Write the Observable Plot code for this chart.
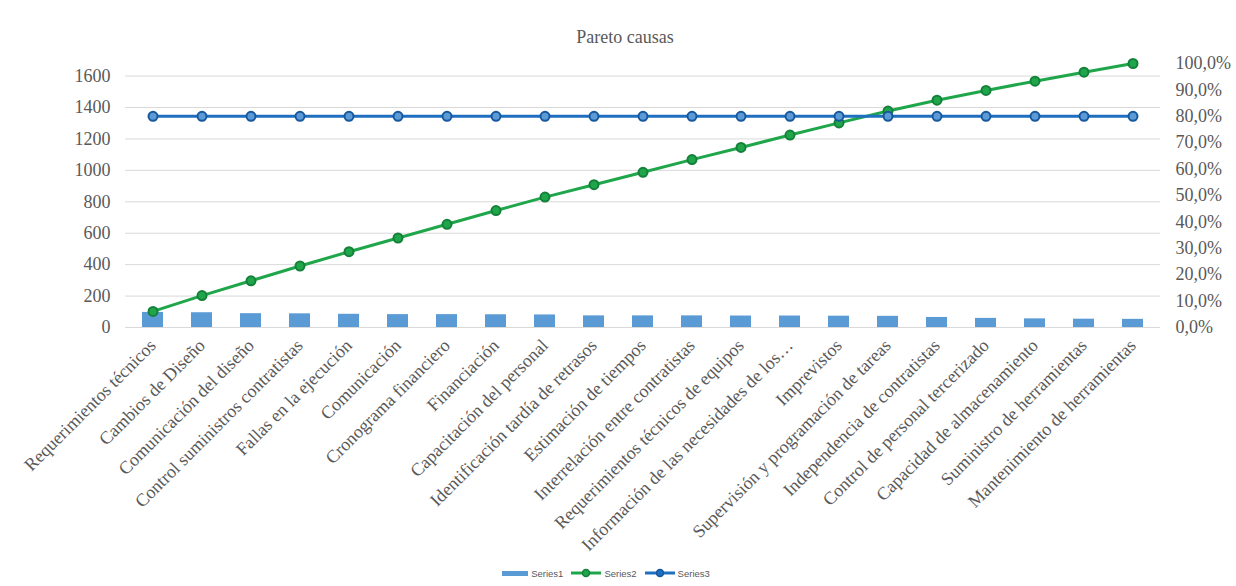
<!DOCTYPE html>
<html>
<head>
<meta charset="utf-8">
<script src="https://cdn.jsdelivr.net/npm/d3@7"></script>
<script src="https://cdn.jsdelivr.net/npm/@observablehq/plot@0.6"></script>
<style>
  html, body { margin: 0; padding: 0; background: #fff; }
  #wrap { position: relative; width: 1236px; height: 586px; overflow: hidden; }
  #title { position: absolute; top: 0; left: 0; width: 1250px; height: 50px; text-align: center;
           font-family: 'Liberation Serif', serif; font-size: 18px; line-height: 18px; color: #595959; padding-top: 28px; box-sizing: border-box; }
  #chart { position: absolute; top: 50px; left: 0; }
  #legend { position: absolute; top: 562px; left: 0; width: 1212px; height: 22px; display: flex; justify-content: center; align-items: center; gap: 8px;
            font-family: 'Liberation Sans', sans-serif; font-size: 9.5px; color: #595959; }
  .item { display: flex; align-items: center; gap: 3px; }
</style>
</head>
<body>
<div id="wrap">
  <div id="title">Pareto causas</div>
  <div id="chart"></div>
  <div id="legend"></div>
</div>
<script>
const categories = [
  "Requerimientos técnicos",
  "Cambios de Diseño",
  "Comunicación del diseño",
  "Control suministros contratistas",
  "Fallas en la ejecución",
  "Comunicación",
  "Cronograma financiero",
  "Financiación",
  "Capacitación del personal",
  "Identificación tardía de retrasos",
  "Estimación de tiempos",
  "Interrelación entre contratistas",
  "Requerimientos técnicos de equipos",
  "Información de las necesidades de los…",
  "Imprevistos",
  "Supervisión y programación de tareas",
  "Independencia de contratistas",
  "Control de personal tercerizado",
  "Capacidad de almacenamiento",
  "Suministro de herramientas",
  "Mantenimiento de herramientas"
];
// Series1: counts per cause
const series1 = [96, 94, 88, 87, 84, 82, 82, 81, 80, 74, 74, 74, 73, 73, 72, 71, 64, 58, 55, 53, 52];
// Series2: cumulative share (secondary axis)
const series2 = [0.061, 0.121, 0.177, 0.233, 0.287, 0.339, 0.391, 0.443, 0.494, 0.541, 0.588, 0.636, 0.682, 0.729, 0.775, 0.820, 0.861, 0.898, 0.933, 0.967, 1.0];
// Series3: 80% reference (secondary axis)
const series3 = [0.8, 0.8, 0.8, 0.8, 0.8, 0.8, 0.8, 0.8, 0.8, 0.8, 0.8, 0.8, 0.8, 0.8, 0.8, 0.8, 0.8, 0.8, 0.8, 0.8, 0.8];
const leftTicks = [0, 200, 400, 600, 800, 1000, 1200, 1400, 1600];
const rightTicks = [0, 0.1, 0.2, 0.3, 0.4, 0.5, 0.6, 0.7, 0.8, 0.9, 1.0];
const PRIMARY_AT_100 = 1680; // primary-axis value aligned with 100% on the secondary axis

const data = categories.map((c, i) => ({cat: c, s1: series1[i], s2: series2[i], s3: series3[i]}));
const sec = v => v * PRIMARY_AT_100;

const C1 = "#5B9BD5", C2 = "#1FA64B", C2d = "#15803a", C3 = "#1F6FC0", C3d = "#17579e";

const chart = Plot.plot({
  width: 1236,
  height: 505,
  marginTop: 13,
  marginBottom: 228,
  marginLeft: 125,
  marginRight: 76,
  style: {fontFamily: "'Liberation Serif', serif", fontSize: "18px", color: "#595959", background: "white"},
  x: {domain: categories, paddingInner: 0.57, paddingOuter: 0.285, label: null},
  y: {domain: [0, PRIMARY_AT_100], label: null},
  marks: [
    Plot.gridY(leftTicks, {stroke: "#d9d9d9", strokeOpacity: 1}),
    Plot.axisY(leftTicks, {anchor: "left", tickSize: 0, tickPadding: 15, label: null, tickFormat: d => String(d)}),
    Plot.axisY(rightTicks.map(sec), {anchor: "right", tickSize: 0, tickPadding: 15, label: null,
      tickFormat: v => (Math.round(v / PRIMARY_AT_100 * 1000) / 10).toFixed(1).replace(".", ",") + "%"}),
    Plot.axisX({tickRotate: -45, tickSize: 0, tickPadding: 15, label: null}),
    Plot.barY(data, {x: "cat", y: "s1", fill: C1}),
    Plot.line(data, {x: "cat", y: d => sec(d.s2), stroke: C2, strokeWidth: 3}),
    Plot.dot(data, {x: "cat", y: d => sec(d.s2), r: 4.5, fill: C2, stroke: C2d, strokeWidth: 2}),
    Plot.line(data, {x: "cat", y: d => sec(d.s3), stroke: C3, strokeWidth: 3}),
    Plot.dot(data, {x: "cat", y: d => sec(d.s3), r: 4.5, fill: "#5b9bd5", stroke: C3d, strokeWidth: 2})
  ]
});
document.getElementById("chart").appendChild(chart);

const legend = document.getElementById("legend");
const items = [
  {name: "Series1", kind: "bar", color: C1},
  {name: "Series2", kind: "line", color: C2, dark: C2d},
  {name: "Series3", kind: "line", color: C3, dark: C3d}
];
for (const it of items) {
  const el = document.createElement("div");
  el.className = "item";
  const sw = it.kind === "bar"
    ? `<svg width="26" height="10"><rect x="0" y="3" width="26" height="5" fill="${it.color}"/></svg>`
    : `<svg width="30" height="10"><line x1="0" y1="5" x2="30" y2="5" stroke="${it.color}" stroke-width="3"/><circle cx="15" cy="5" r="3.5" fill="${it.color}" stroke="${it.dark}" stroke-width="1.5"/></svg>`;
  el.innerHTML = sw + `<span>${it.name}</span>`;
  legend.appendChild(el);
}
</script>
</body>
</html>
